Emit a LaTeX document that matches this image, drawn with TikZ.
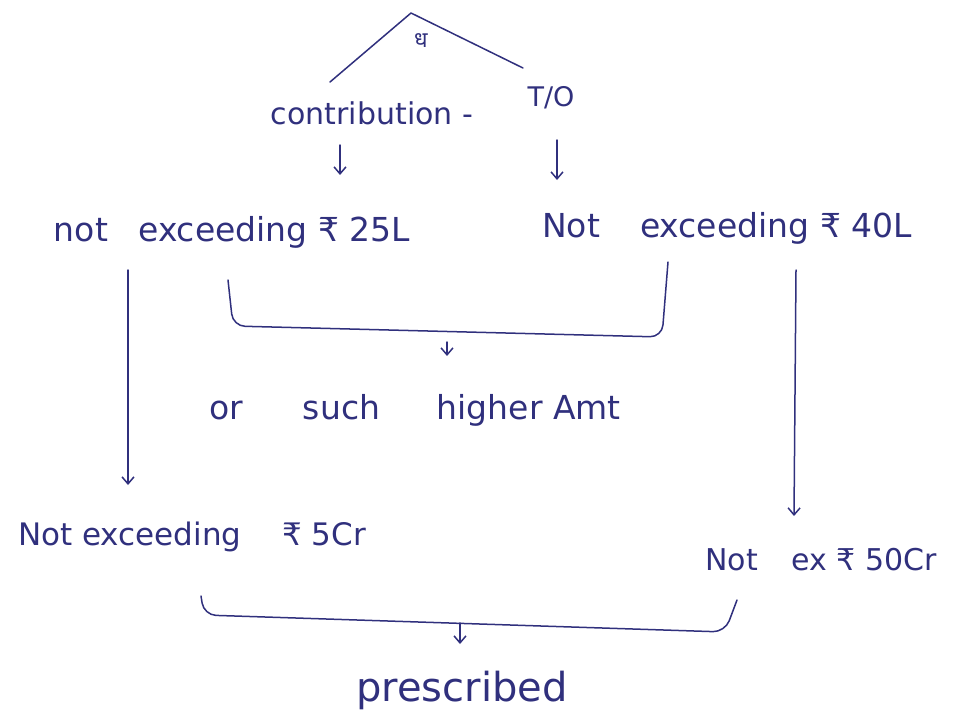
\documentclass[tikz,border=0pt]{standalone}
\usepackage{fontspec}
\setmainfont{DejaVu Sans}
\newfontfamily\devafont[Script=Devanagari]{Noto Sans}
\usetikzlibrary{arrows.meta}
\definecolor{ink}{RGB}{48,48,125}
\tikzset{
  hand/.style={text=ink, inner sep=0pt, font=\fontsize{33}{38}\selectfont},
  pen/.style={draw=ink, line width=1.5pt, line cap=round, line join=round},
  arr/.style={pen, -{Straight Barb[length=7pt,width=12pt]}}
}
\begin{document}
\begin{tikzpicture}[x=1pt,y=-1pt]
\useasboundingbox (0,0) rectangle (957,715);
% top tree
\coordinate (apex) at (411,13);
\coordinate (cl) at (330,82);
\coordinate (cr) at (523,68);
\draw[pen] (cl) -- (apex) -- (cr);
\node[hand, font=\devafont\fontsize{22}{24}\selectfont] (sym) at (421,41) {ध};
\node[hand, font=\fontsize{30}{34}\selectfont] (contrib) at (372,113) {contribution -};
\node[hand, font=\fontsize{27}{30}\selectfont] (to) at (551,98) {T/O};
% level 2
\node[hand] (a25) at (232,232) {not\hspace{0.6em} exceeding ₹ 25L};
\node[hand] (a40) at (727,228) {Not\hspace{0.9em} exceeding ₹ 40L};
\coordinate (c1a) at (340,145);
\coordinate (c1b) at (340,175);
\coordinate (t1a) at (557,140);
\coordinate (t1b) at (557,180);
\draw[arr] (c1a) -- (c1b);
\draw[arr] (t1a) -- (t1b);
% middle bracket
\node[hand, font=\fontsize{33}{37}\selectfont] (higher) at (415,410) {or\hspace{1.5em} such\hspace{1.4em} higher Amt};
\coordinate (b1l) at (228,280);
\coordinate (b1r) at (668,262);
\coordinate (b1m) at (447,342);
\coordinate (b1n) at (447,356);
\draw[pen, rounded corners=12pt] (b1l) -- (233,326) -- (662,337) -- (b1r);
\draw[arr] (b1m) -- (b1n);
% long arrows
\node[hand, font=\fontsize{31}{35}\selectfont] (cr5) at (192,537) {Not exceeding\hspace{1em} ₹ 5Cr};
\node[hand, font=\fontsize{30}{34}\selectfont] (cr50) at (821,560) {Not\hspace{0.8em} ex ₹ 50Cr};
\coordinate (l1) at (128,270);
\coordinate (l2) at (128,485);
\coordinate (r1) at (796,270);
\coordinate (r2) at (794,516);
\draw[arr] (l1) -- (l2);
\draw[arr] (r1) -- (r2);
% bottom bracket
\coordinate (b2l) at (201,596);
\coordinate (b2r) at (737,600);
\coordinate (b2m) at (460,623);
\coordinate (b2n) at (460,644);
\draw[pen, rounded corners=12pt] (b2l) -- (204,615) -- (725,632) -- (b2r);
\draw[arr] (b2m) -- (b2n);
\node[hand, font=\fontsize{40}{44}\selectfont] (pres) at (462,690) {prescribed};
\end{tikzpicture}
\end{document}
